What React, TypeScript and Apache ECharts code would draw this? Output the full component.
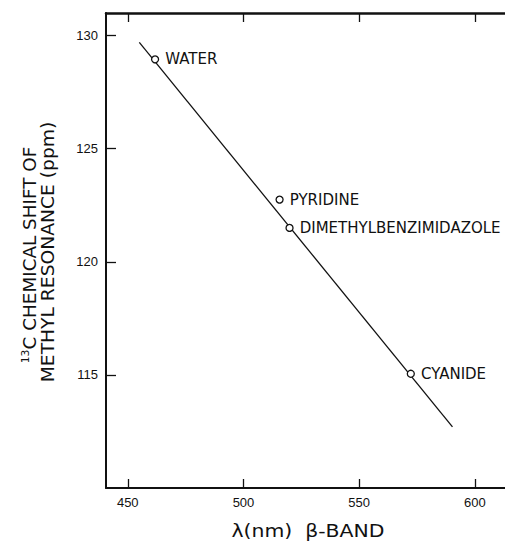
import React, { useEffect, useRef } from "react";
import * as echarts from "echarts";

// Tick labels
const xTicks = [450, 500, 550, 600];
const yTicks = [115, 120, 125, 130];

// Measured points
const ligands = ["WATER", "PYRIDINE", "DIMETHYLBENZIMIDAZOLE", "CYANIDE"];
const betaBand = [461.8, 515.6, 519.9, 572.3];
const methylShift = [128.95, 122.75, 121.5, 115.05];

// Fitted straight line (end points)
const fitX = [455.0, 590.3];
const fitY = [129.7, 112.7];

const INK = "#111";
const LABEL_FONT = '"DejaVu Sans", sans-serif';
const TICK_FONT = '"Liberation Sans", Arial, sans-serif';

export default function App() {
  const ref = useRef<HTMLDivElement>(null);

  useEffect(() => {
    if (!ref.current) return;
    const chart = echarts.init(ref.current, undefined, { renderer: "svg" });

    const xCommon = {
      type: "value" as const,
      min: 440.6,
      max: 613,
      splitLine: { show: false },
      axisLine: { onZero: false, lineStyle: { color: INK, width: 2 } },
    };

    chart.setOption({
      animation: false,
      backgroundColor: "#fff",
      grid: { left: 106, right: 0, top: 13, bottom: 56 },
      xAxis: [
        {
          ...xCommon,
          position: "bottom",
          axisTick: {
            inside: true,
            length: 9,
            customValues: xTicks,
            lineStyle: { color: INK, width: 1.3 },
          },
          axisLabel: {
            customValues: xTicks,
            margin: 8,
            fontSize: 13,
            fontFamily: TICK_FONT,
            color: INK,
          },
        },
        {
          ...xCommon,
          position: "top",
          axisLine: { onZero: false, lineStyle: { color: INK, width: 2.5 } },
          axisTick: {
            inside: true,
            length: 9,
            customValues: xTicks,
            lineStyle: { color: INK, width: 1.3 },
          },
          axisLabel: { show: false },
        },
      ],
      yAxis: {
        type: "value",
        min: 110,
        max: 131,
        splitLine: { show: false },
        axisLine: { show: true, onZero: false, lineStyle: { color: INK, width: 2 } },
        axisTick: {
          inside: true,
          length: 10,
          customValues: yTicks,
          lineStyle: { color: INK, width: 1.3 },
        },
        axisLabel: {
          customValues: yTicks,
          margin: 8,
          fontSize: 13,
          fontFamily: TICK_FONT,
          color: INK,
        },
      },
      series: [
        {
          type: "line",
          data: fitX.map((x, i) => [x, fitY[i]]),
          showSymbol: false,
          lineStyle: { color: INK, width: 1.3 },
          z: 2,
          silent: true,
        },
        {
          type: "scatter",
          data: ligands.map((name, i) => ({ name, value: [betaBand[i], methylShift[i]] })),
          symbol: "circle",
          symbolSize: 7,
          itemStyle: { color: "#fff", borderColor: INK, borderWidth: 1.3, opacity: 1 },
          label: {
            show: true,
            position: "right",
            distance: 6,
            formatter: "{b}",
            fontFamily: LABEL_FONT,
            fontSize: 15,
            color: INK,
          },
          z: 3,
        },
      ],
      graphic: [
        {
          type: "text",
          x: 30,
          y: 255,
          rotation: Math.PI / 2,
          scaleX: 1.08,
          style: {
            text: "{sup|13}{m|C CHEMICAL SHIFT OF}",
            align: "center",
            verticalAlign: "middle",
            fill: INK,
            rich: {
              sup: { fontSize: 10, fontFamily: LABEL_FONT, fill: INK, padding: [0, 0, 10, 0] },
              m: { fontSize: 17, fontFamily: LABEL_FONT, fill: INK },
            },
          },
        },
        {
          type: "text",
          x: 48,
          y: 252,
          rotation: Math.PI / 2,
          scaleX: 1.1,
          style: {
            text: "METHYL RESONANCE (ppm)",
            align: "center",
            verticalAlign: "middle",
            fill: INK,
            fontSize: 17,
            fontFamily: LABEL_FONT,
          },
        },
        {
          type: "text",
          x: 308,
          y: 531,
          scaleX: 1.2,
          style: {
            text: "λ(nm)  β-BAND",
            align: "center",
            verticalAlign: "middle",
            fill: INK,
            fontSize: 17,
            fontFamily: LABEL_FONT,
          },
        },
      ],
    });

    return () => chart.dispose();
  }, []);

  return (
    <div
      ref={ref}
      style={{ position: "absolute", left: 0, top: 0, width: 505, height: 544 }}
    />
  );
}
